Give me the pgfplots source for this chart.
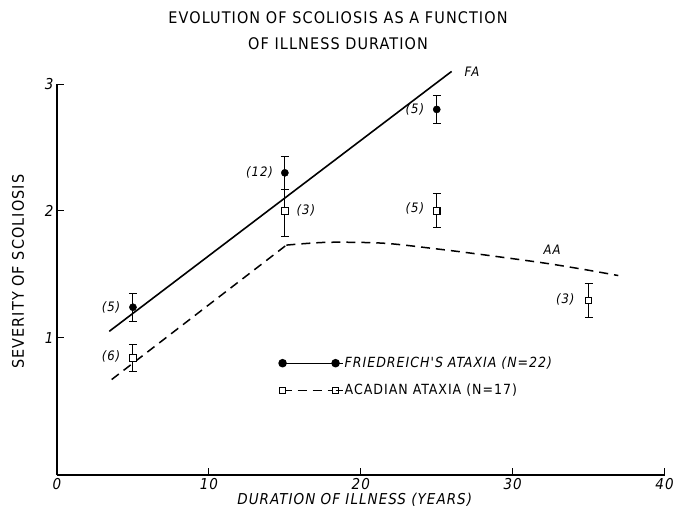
\documentclass[border=0pt]{standalone}
\usepackage{pgfplots}
\pgfplotsset{compat=1.18}
\usepackage{fontspec}
\setmainfont{DejaVu Sans Condensed}
\newfontfamily\lettering[LetterSpace=7]{DejaVu Sans Condensed}
\begin{document}
\begin{tikzpicture}[font=\lettering\fontsize{15bp}{18bp}\selectfont]
\begin{axis}[
  anchor=south west, at={(0,0)},
  x=15.19bp, y=126.8bp,
  xmin=0, xmax=40, ymin=-0.083, ymax=3,
  axis lines*=left,
  axis line style={line width=1.2bp},
  xtick={0,10,20,30,40}, ytick={1,2,3},
  tick align=inside, major tick length=7bp,
  tick style={line width=1.1bp, black},
  /pgf/number format/assume math mode=true,
  ticklabel style={font=\lettering\fontsize{15bp}{18bp}\selectfont\itshape},
  xlabel={DURATION OF ILLNESS (YEARS)},
  xlabel style={font=\lettering\fontsize{15bp}{18bp}\selectfont\itshape, at={(axis description cs:0.49,-0.064)}, anchor=center},
  ylabel={SEVERITY OF SCOLIOSIS},
  ylabel style={font=\lettering\fontsize{16bp}{18bp}\selectfont, at={(axis description cs:-0.064,0.52)}, anchor=center},
  clip=false,
  legend style={draw=none, fill=none, at={(axis cs:14.6,0.86)}, anchor=north west, inner sep=0pt, row sep=12bp,
     font=\lettering\fontsize{14bp}{16bp}\selectfont, nodes={inner sep=1.5bp}},
  legend cell align=left,
  legend image code/.code={\draw[#1] plot coordinates {(0bp,0bp) (53bp,0bp)}; \path (53bp,0bp) -- (60bp,0bp);},
  error bars/error mark=-,
  error bars/error bar style={line width=1bp, black},
  error bars/error mark options={rotate=90, mark size=4bp, line width=1bp, black},
]
% Friedreich's ataxia: fitted line
\addplot[black, line width=1.6bp, forget plot] coordinates {(3.44,1.05) (25.98,3.10)};
% Acadian ataxia: fitted curve
\addplot[black, line width=1.5bp, dash pattern=on 9bp off 6bp, forget plot] coordinates {(3.6,0.67) (15.1,1.73)};
\addplot[black, line width=1.5bp, dash pattern=on 9bp off 6bp, smooth, forget plot] coordinates {
  (15.1,1.73) (17.8,1.752) (21.5,1.745) (25,1.70) (28,1.655) (32,1.59) (34.6,1.54) (36.95,1.49)};
% FA data
\addplot[only marks, mark=*, mark size=3.6bp, black, forget plot,
  error bars/.cd, y dir=both, y explicit] coordinates {
  (5,1.24) +- (0,0.11)
  (15,2.30) +- (0,0.13)
  (25,2.80) +- (0,0.11)};
% AA data
\addplot[only marks, mark=square*, mark size=3.2bp, black, fill=white, mark options={line width=1.1bp, fill=white}, forget plot,
  error bars/.cd, y dir=both, y explicit] coordinates {
  (5,0.84) +- (0,0.11)
  (15,2.00) += (0,0.17) -= (0,0.20)
  (25,2.00) +- (0,0.135)
  (35,1.295) +- (0,0.135)};
\addlegendimage{black, line width=1.3bp, mark=*, mark size=3.6bp}
\addlegendentry{\itshape FRIEDREICH'S ATAXIA (N=22)}
\addlegendimage{black, line width=1.3bp, dash pattern=on 9bp off 6bp, mark=square*, mark size=3.2bp, mark options={solid, fill=white, line width=1.1bp}}
\addlegendentry{ACADIAN ATAXIA (N=17)}
% count annotations
\begin{scope}[every node/.style={font=\lettering\fontsize{13bp}{15bp}\selectfont\itshape}]
\node[anchor=east] at (axis cs:4.4,1.24) {(5)};
\node[anchor=east] at (axis cs:4.4,0.85) {(6)};
\node[anchor=east] at (axis cs:14.45,2.30) {(12)};
\node[anchor=west] at (axis cs:15.55,2.00) {(3)};
\node[anchor=east] at (axis cs:24.4,2.02) {(5)};
\node[anchor=east] at (axis cs:24.4,2.80) {(5)};
\node[anchor=east] at (axis cs:34.3,1.30) {(3)};
\node[anchor=west] at (axis cs:26.6,3.10) {FA};
\node at (axis cs:32.6,1.69) {AA};
\end{scope}
% title
\node[align=center, font=\lettering\fontsize{16bp}{26bp}\selectfont] at (axis cs:18.5,3.42)
  {EVOLUTION OF SCOLIOSIS AS A FUNCTION\\OF ILLNESS DURATION};
\end{axis}
\pgfresetboundingbox
\path (-57bp,-40bp) rectangle (616bp,475bp);
\end{tikzpicture}
\end{document}
